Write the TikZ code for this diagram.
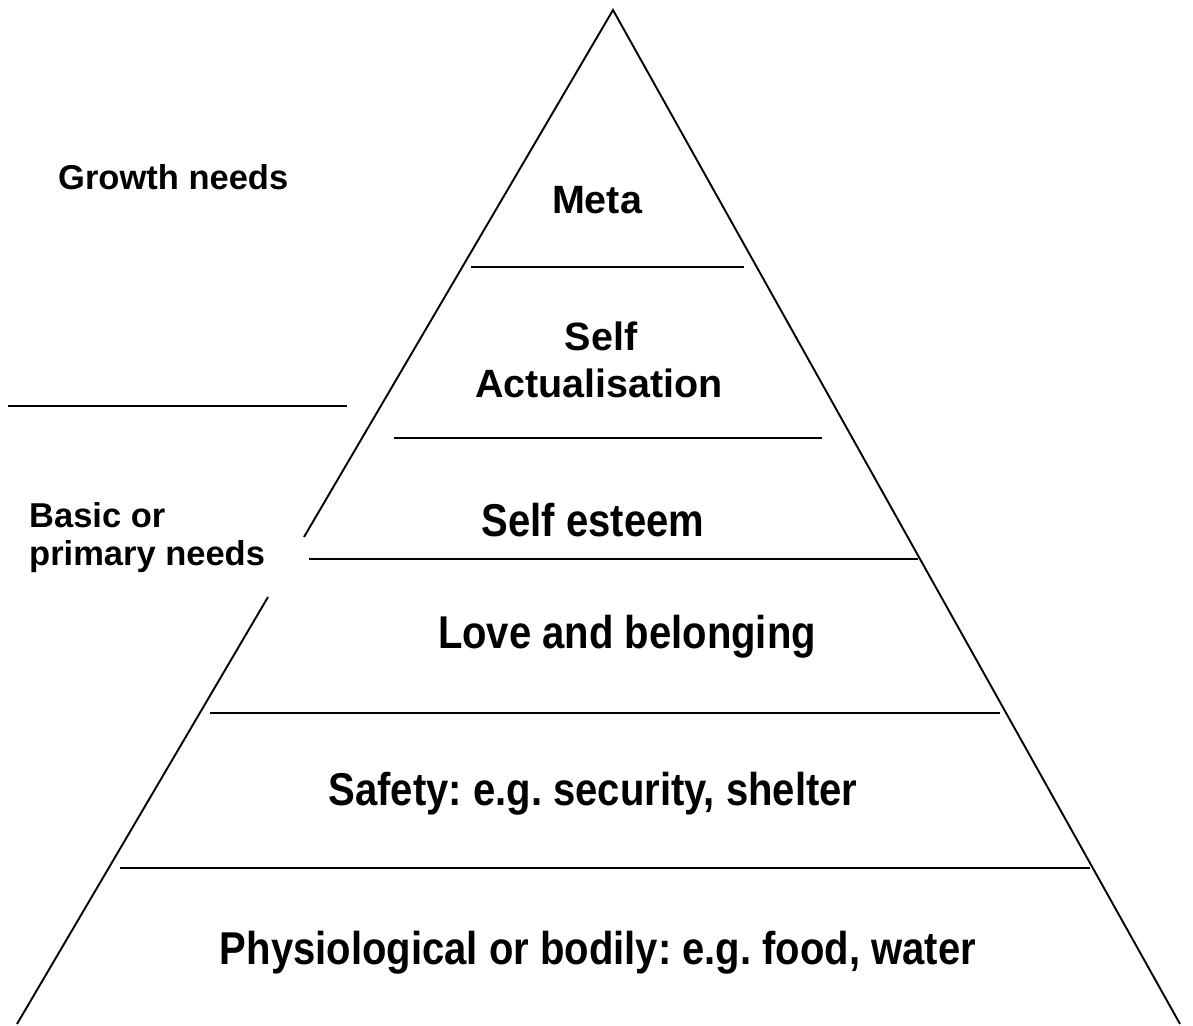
\documentclass[tikz,border=0pt]{standalone}
\usepackage{fontspec}
\setmainfont{Liberation Sans}
\newfontfamily\narrowfont{Liberation Sans}[FakeStretch=0.87]
\frenchspacing

\tikzset{
  tierlabel/.style={font=\fontsize{39.5}{47}\selectfont\bfseries, anchor=base, inner sep=0pt},
  widelabel/.style={font=\narrowfont\fontsize{46}{50}\selectfont\bfseries, anchor=base, inner sep=0pt},
  sidelabel/.style={font=\fontsize{34.5}{38}\selectfont\bfseries, anchor=base west, inner sep=0pt},
  rule/.style={line width=1.9pt}
}

\begin{document}
\begin{tikzpicture}[x=1pt,y=-1pt]
    \useasboundingbox (0,0) rectangle (1193,1025);

    % pyramid outline, open on the left where the side label sits
    \coordinate (apex)   at (613,10);
    \coordinate (bl)     at (17,1024);
    \coordinate (br)     at (1180,1024);
    \coordinate (gaptop) at (304,537);
    \coordinate (gapbot) at (268,597);
    \draw[rule] (gaptop) -- (apex) -- (br);
    \draw[rule] (gapbot) -- (bl);

    % tier dividers
    \draw[rule] (471,267) -- (744,267);
    \draw[rule] (394,438) -- (822,438);
    \draw[rule] (309,559) -- (918,559);
    \draw[rule] (210,713) -- (1000,713);
    \draw[rule] (120,868) -- (1090,868);

    % divider between growth and basic needs
    \draw[rule] (8,406) -- (347,406);

    \node[tierlabel] (meta)   at (597,213) {Meta};
    \node[tierlabel] (self)   at (601,350) {Self};
    \node[tierlabel] (actual) at (599,397) {Actualisation};
    \node[widelabel] (esteem) at (593,536) {Self esteem};
    \node[widelabel] (love)   at (627,648) {Love and belonging};
    \node[widelabel] (safety) at (593,805) {Safety: e.g. security, shelter};
    \node[widelabel] (body)   at (598,964) {Physiological or bodily: e.g. food, water};

    \node[sidelabel] (growth)  at (58,189) {Growth needs};
    \node[sidelabel] (basic)   at (29,527) {Basic or};
    \node[sidelabel] (primary) at (29,565) {primary needs};
\end{tikzpicture}
\end{document}
